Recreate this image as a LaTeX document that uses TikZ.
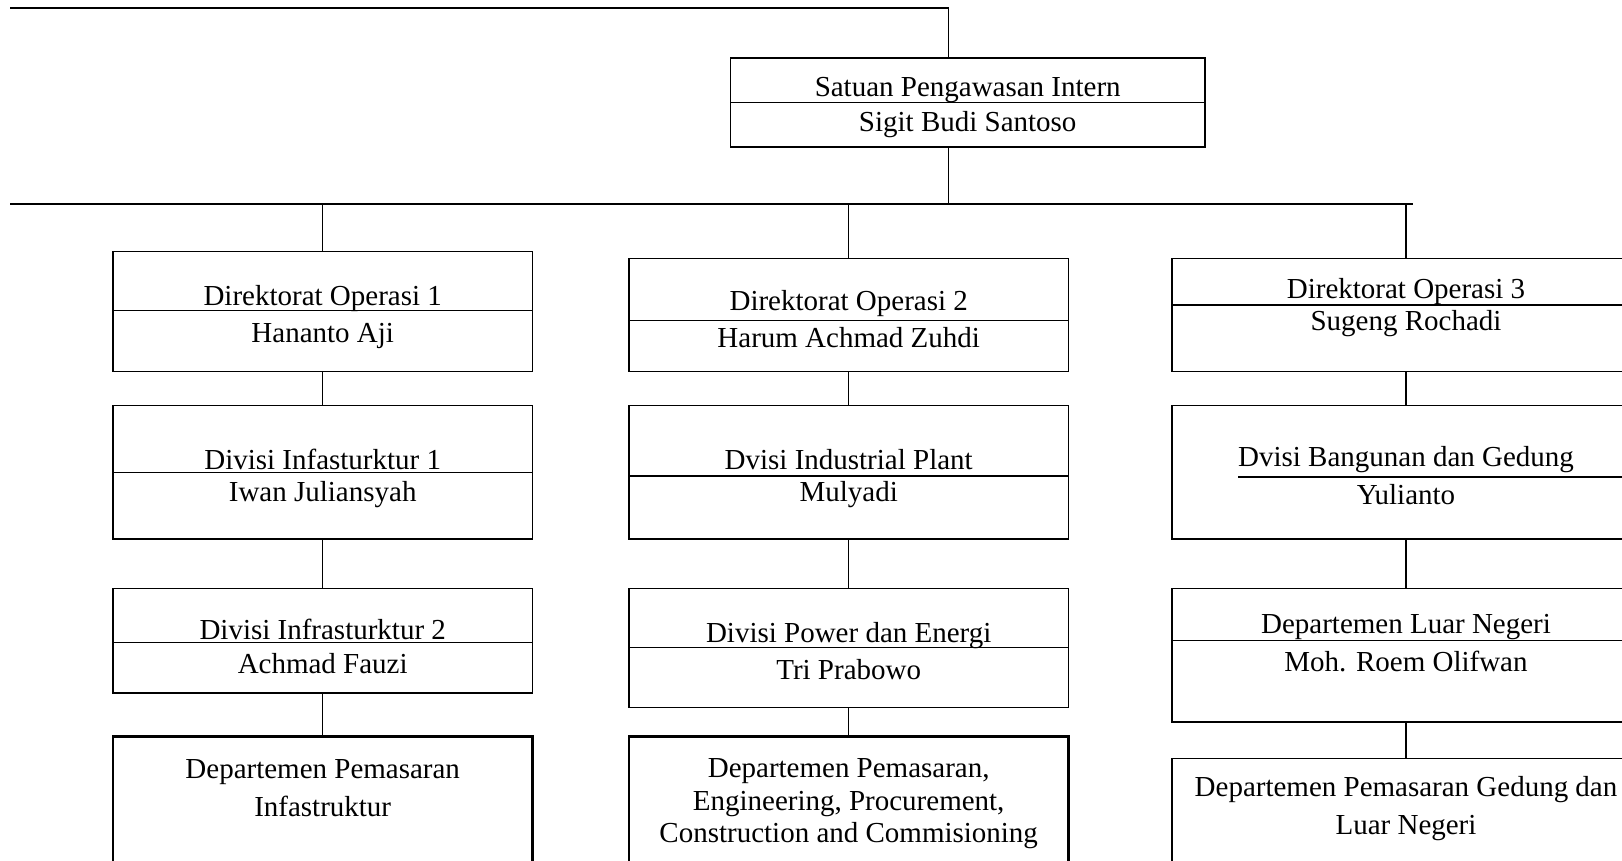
\documentclass[tikz,border=0pt]{standalone}
\usepackage{fontspec}
\setmainfont{Liberation Serif}
\usetikzlibrary{fit, calc}

\tikzset{
  unitbox/.style={draw, rectangle, inner sep=0pt, line width=0.8pt},
  deptbox/.style={draw, rectangle, inner sep=0pt, line width=1.4pt},
  lbl/.style={inner sep=0pt, yshift=-1.8pt, font=\fontsize{16.5}{18.5}\selectfont},
  wline/.style={line width=0.8pt},
  busline/.style={line width=1.3pt}
}

\begin{document}
\begin{tikzpicture}[x=0.02cm, y=-0.02cm]
                        \useasboundingbox (0,0) rectangle (1622,860);
                        % pengawasan
                        \node[unitbox, fit={(730.3,57.9) (1205.1,146.9)}] (spi) {};
                        \draw[wline] (730.3,102.4) -- (1205.1,102.4);
                        \node[lbl] (spit) at (967.7,86.9) {Satuan Pengawasan Intern};
                        \node[lbl] (spin) at (967.7,121) {Sigit Budi Santoso};
                        \coordinate (top) at (948.6,8.3);
                        \coordinate (bus) at (948.6,203.8);
                        \draw[busline] (10.3,8.3) -- (top);
                        \draw[wline] (top) -- (top |- spi.north);
                        \draw[wline] (bus |- spi.south) -- (bus);
                        \draw[busline] (10.3,203.8) -- (1413,203.8);
                        % kolom 1
                        \node[unitbox, fit={(112.8,251.4) (532.7,371.4)}] (do1) {};
                        \draw[wline] (112.8,310.3) -- (532.7,310.3);
                        \node[lbl] (do1t) at (322.7,295.8) {Direktorat Operasi 1};
                        \node[lbl] (do1n) at (322.7,333) {Hananto Aji};
                        \node[unitbox, fit={(112.8,405.5) (532.7,538.9)}] (div1) {};
                        \draw[wline] (112.8,472.7) -- (532.7,472.7);
                        \node[lbl] (div1t) at (322.7,456) {Divisi Infasturktur 1};
                        \node[lbl] (div1n) at (322.7,491) {Iwan Juliansyah};
                        \node[unitbox, fit={(112.8,588.6) (532.7,693.1)}] (div2) {};
                        \draw[wline] (112.8,642.4) -- (532.7,642.4);
                        \node[lbl] (div2t) at (322.7,626) {Divisi Infrasturktur 2};
                        \node[lbl] (div2n) at (322.7,660) {Achmad Fauzi};
                        \node[deptbox, fit={(112.8,736.5) (532.7,900)}] (dep1) {};
                        \node[lbl, align=center, font=\fontsize{16.5}{21.6}\selectfont] (dep1t) at (322.7,784.6) {Departemen Pemasaran\\Infastruktur};
                        % kolom 2
                        \node[unitbox, fit={(628.9,258.6) (1068.5,371.4)}] (do2) {};
                        \draw[wline] (628.9,320.7) -- (1068.5,320.7);
                        \node[lbl] (do2t) at (848.7,300) {Direktorat Operasi 2};
                        \node[lbl] (do2n) at (848.7,334) {Harum Achmad Zuhdi};
                        \node[unitbox, fit={(628.9,405.5) (1068.5,538.9)}] (dip) {};
                        \draw[wline] (628.9,475.8) -- (1068.5,475.8);
                        \node[lbl] (dipt) at (848.7,456) {Dvisi Industrial Plant};
                        \node[lbl] (dipn) at (848.7,491) {Mulyadi};
                        \node[unitbox, fit={(628.9,588.6) (1068.5,707.5)}] (dpe) {};
                        \draw[wline] (628.9,647.5) -- (1068.5,647.5);
                        \node[lbl] (dpet) at (848.7,632) {Divisi Power dan Energi};
                        \node[lbl] (dpen) at (848.7,666) {Tri Prabowo};
                        \node[deptbox, fit={(628.9,736.5) (1068.5,900)}] (dep2) {};
                        \node[lbl, align=center] (dep2t) at (848.7,800.5) {Departemen Pemasaran,\\Engineering, Procurement,\\Construction and Commisioning};
                        % kolom 3
                        \node[unitbox, fit={(1172,258.6) (1640,371.4)}] (do3) {};
                        \draw[wline] (1172,305.1) -- (1640,305.1);
                        \node[lbl] (do3t) at (1406,288.6) {Direktorat Operasi 3};
                        \node[lbl] (do3n) at (1406,320.7) {Sugeng Rochadi};
                        \node[unitbox, fit={(1172,405.5) (1640,538.9)}] (dbg) {};
                        \draw[wline] (1238,476.9) -- (1640,476.9);
                        \node[lbl] (dbgt) at (1406,456) {Dvisi Bangunan dan Gedung};
                        \node[lbl] (dbgn) at (1406,491) {Yulianto};
                        \node[unitbox, fit={(1172,588.6) (1640,722)}] (dln) {};
                        \draw[wline] (1172,640.3) -- (1640,640.3);
                        \node[lbl] (dlnt) at (1406,623.8) {Departemen Luar Negeri};
                        \node[lbl] (dlnn) at (1406,657.9) {Moh. Roem Olifwan};
                        \node[unitbox, fit={(1172,758.2) (1640,920)}] (dep3) {};
                        \node[lbl, align=center, font=\fontsize{16.5}{21.6}\selectfont] (dep3t) at (1406,805.2) {Departemen Pemasaran Gedung dan\\Luar Negeri};
                        % penghubung
                        \draw[wline] (do1.north |- bus) -- (do1.north);
                        \draw[wline] (do2.north |- bus) -- (do2.north);
                        \draw[wline] (do3.north |- bus) -- (do3.north);
                        \draw[wline] (do1) -- (div1) (div1) -- (div2) (div2) -- (dep1);
                        \draw[wline] (do2) -- (dip) (dip) -- (dpe) (dpe) -- (dep2);
                        \draw[wline] (do3) -- (dbg) (dbg) -- (dln) (dln) -- (dep3);
                    \end{tikzpicture}
\end{document}
